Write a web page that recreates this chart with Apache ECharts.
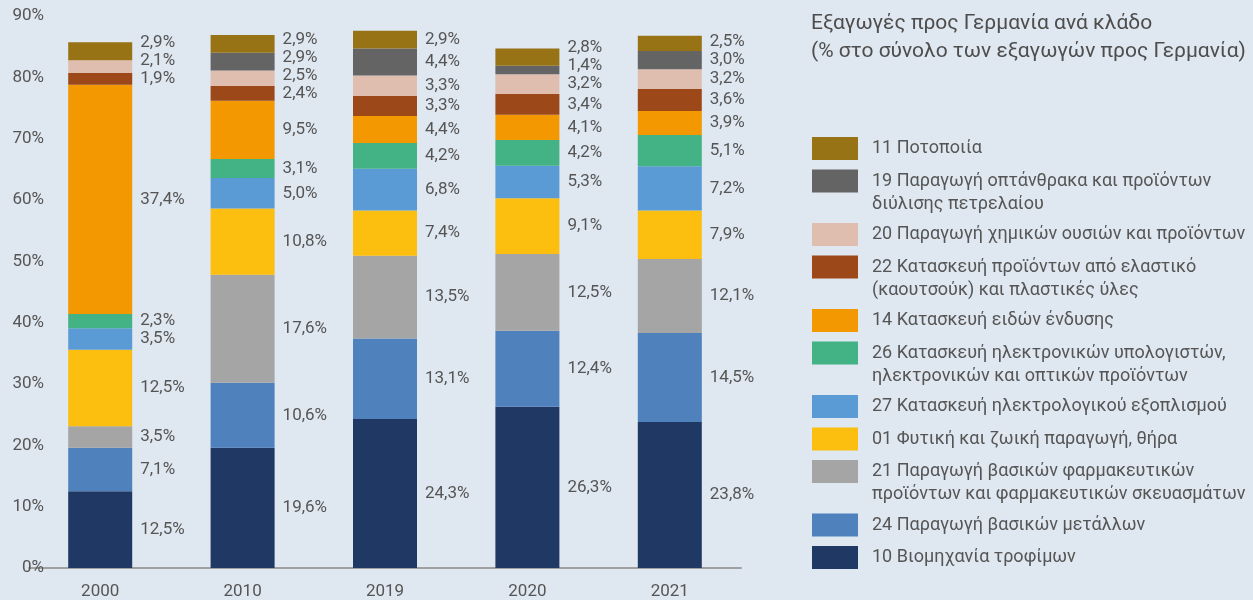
<!DOCTYPE html>
<html>
<head>
<meta charset="utf-8">
<script src="https://cdn.jsdelivr.net/npm/echarts@6/dist/echarts.min.js"></script>
<style>
html,body{margin:0;padding:0;background:#dfe7f0;}
#main{width:1253px;height:600px;}
</style>
</head>
<body>
<div id="main"></div>
<script>
// years on the x axis
var categories = ['2000', '2010', '2019', '2020', '2021'];
// % of exports to Germany per sector (bottom of stack first)
var food        = [12.5, 19.6, 24.3, 26.3, 23.8]; // 10
var metals      = [7.1, 10.6, 13.1, 12.4, 14.5];  // 24
var pharma      = [3.5, 17.6, 13.5, 12.5, 12.1];  // 21
var agri        = [12.5, 10.8, 7.4, 9.1, 7.9];    // 01
var electrical  = [3.5, 5.0, 6.8, 5.3, 7.2];      // 27
var computers   = [2.3, 3.1, 4.2, 4.2, 5.1];      // 26
var apparel     = [37.4, 9.5, 4.4, 4.1, 3.9];     // 14
var rubber      = [1.9, 2.4, 3.3, 3.4, 3.6];      // 22
var chemicals   = [2.1, 2.5, 3.3, 3.2, 3.2];      // 20
var coke        = [0, 2.9, 4.4, 1.4, 3.0];        // 19
var beverages   = [2.9, 2.9, 2.9, 2.8, 2.5];      // 11
var yTicks = [0, 10, 20, 30, 40, 50, 60, 70, 80, 90];

var names = [
	'10 Βιομηχανία τροφίμων',
	'24 Παραγωγή βασικών μετάλλων',
	'21 Παραγωγή βασικών φαρμακευτικών\nπροϊόντων και φαρμακευτικών σκευασμάτων',
	'01 Φυτική και ζωική παραγωγή, θήρα',
	'27 Κατασκευή ηλεκτρολογικού εξοπλισμού',
	'26 Κατασκευή ηλεκτρονικών υπολογιστών,\nηλεκτρονικών και οπτικών προϊόντων',
	'14 Κατασκευή ειδών ένδυσης',
	'22 Κατασκευή προϊόντων από ελαστικό\n(καουτσούκ) και πλαστικές ύλες',
	'20 Παραγωγή χημικών ουσιών και προϊόντων',
	'19 Παραγωγή οπτάνθρακα και προϊόντων\nδιύλισης πετρελαίου',
	'11 Ποτοποιία'
];
var values = [food, metals, pharma, agri, electrical, computers, apparel, rubber, chemicals, coke, beverages];
var colors = ['#203864', '#4f81bd', '#a5a5a5', '#fcbf0f', '#5b9bd5', '#43b285', '#f39800', '#9c4818', '#dfbdaf', '#646464', '#977316'];

var textColor = '#555';
var font = 'Roboto';
var GAP = 18; // min px between labels of one bar

// push labels up so they do not overlap, per bar
function labelShifts(j, ppu){
	var centers = [], cum = 0;
	values.forEach(function(arr){
		var v = arr[j];
		centers.push(v > 0 ? (cum + v / 2) * ppu : null);
		cum += v;
	});
	var pos = centers.slice(), last = -Infinity;
	for (var i = 0; i < pos.length; i++) {
		if (pos[i] == null) continue;
		if (pos[i] - last < GAP) pos[i] = last + GAP;
		last = pos[i];
	}
	return pos.map(function(p, i){ return p == null ? 0 : p - centers[i]; });
}

var series = names.map(function(n, i){
	return {
		name: n,
		type: 'bar',
		stack: 'total',
		barWidth: 64,
		itemStyle: {color: colors[i]},
		data: values[i],
		label: {
			show: true,
			position: 'right',
			distance: 8,
			color: textColor,
			fontFamily: font,
			fontSize: 17,
			formatter: function(p){
				if (!p.value) return '';
				return p.value.toFixed(1).replace('.', ',') + '%';
			}
		},
		labelLayout: function(params){
			var v = values[params.seriesIndex][params.dataIndex];
			if (!v) return {};
			var ppu = params.rect.height / v;
			var sh = labelShifts(params.dataIndex, ppu);
			return {dy: -sh[params.seriesIndex]};
		}
	};
});

// legend: one block per item, top to bottom in reverse stack order
var legends = [];
var iconTop = 137;
for (var k = names.length - 1; k >= 0; k--) {
	var lines = names[k].split('\n').length;
	legends.push({
		data: [names[k]],
		left: 812,
		top: iconTop - 3 - (lines - 1) * 23,
		padding: 0,
		itemWidth: 46,
		itemHeight: 23,
		icon: 'rect',
		selectedMode: false,
		// blank first line so the icon sits next to the first text line
		formatter: function(name){
			return name.indexOf('\n') >= 0 ? '\n' + name : name;
		},
		textStyle: {
			color: textColor,
			fontFamily: font,
			fontSize: 18,
			lineHeight: 23,
			padding: [6, 0, 0, 9]
		}
	});
	iconTop += lines > 1 ? 53.5 : 32.5;
}

var myChart = echarts.init(document.getElementById('main'));
var option = {
	backgroundColor: '#dfe7f0',
	animation: false,
	title: {
		text: 'Εξαγωγές προς Γερμανία ανά κλάδο\n(% στο σύνολο των εξαγωγών προς Γερμανία)',
		left: 811,
		top: 10,
		padding: 0,
		textStyle: {
			color: '#4d4d4d',
			fontFamily: font,
			fontSize: 21,
			fontWeight: 'normal',
			lineHeight: 28
		}
	},
	legend: legends,
	grid: {left: 29, top: 16, width: 712, bottom: 32, containLabel: false},
	xAxis: {
		type: 'category',
		data: categories,
		axisLine: {show: true, lineStyle: {color: '#a0a0a0', width: 2}},
		axisTick: {show: false},
		axisLabel: {color: textColor, fontFamily: font, fontSize: 17, margin: 15}
	},
	yAxis: {
		type: 'value',
		min: yTicks[0],
		max: yTicks[yTicks.length - 1],
		interval: 10,
		splitLine: {show: false},
		axisLine: {show: false},
		axisTick: {show: false},
		axisLabel: {color: textColor, fontFamily: font, fontSize: 17, margin: -15, formatter: '{value}%'}
	},
	series: series
};
myChart.setOption(option);
</script>
</body>
</html>
